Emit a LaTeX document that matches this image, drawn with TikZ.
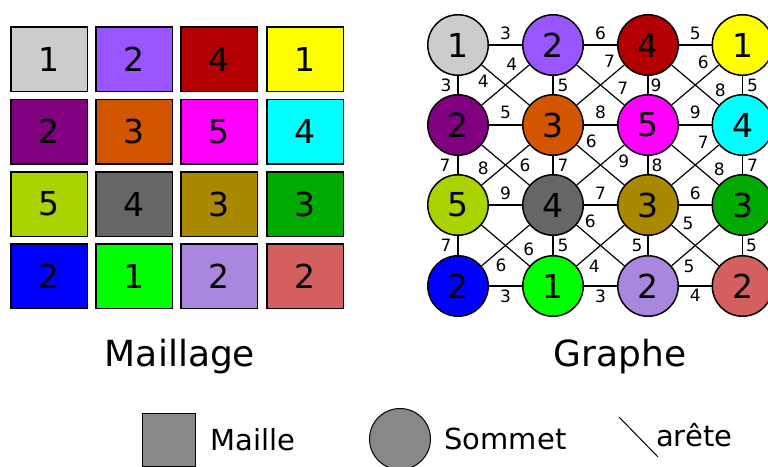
\documentclass[tikz,border=0pt]{standalone}
\usepackage{fontspec}
\setmainfont{DejaVu Sans}
\usetikzlibrary{positioning}

\definecolor{c11}{HTML}{CCCCCC}
\definecolor{c12}{HTML}{9955FF}
\definecolor{c13}{HTML}{B30000}
\definecolor{c14}{HTML}{FFFF00}
\definecolor{c21}{HTML}{800080}
\definecolor{c22}{HTML}{D45500}
\definecolor{c23}{HTML}{FF00FF}
\definecolor{c24}{HTML}{00FFFF}
\definecolor{c31}{HTML}{AAD400}
\definecolor{c32}{HTML}{666666}
\definecolor{c33}{HTML}{AA8800}
\definecolor{c34}{HTML}{00AA00}
\definecolor{c41}{HTML}{0000FF}
\definecolor{c42}{HTML}{00FF00}
\definecolor{c43}{HTML}{AA87DE}
\definecolor{c44}{HTML}{D35F5F}
\definecolor{gris}{HTML}{888888}

\begin{document}
\begin{tikzpicture}[x=1pt, y=-1pt,
  maille/.style={draw, line width=1.5pt, minimum width=76.5pt, minimum height=64.5pt, inner sep=0pt, font=\fontsize{33}{33}\selectfont},
  sommet/.style={circle, draw, line width=1.5pt, minimum size=60.5pt, inner sep=0pt, font=\fontsize{33}{33}\selectfont},
  poids/.style={font=\fontsize{17}{17}\selectfont, inner sep=2pt},
  titre/.style={font=\fontsize{36}{36}\selectfont, anchor=base},
  legende/.style={font=\fontsize{29}{29}\selectfont},
  every edge/.style={draw, line width=1.2pt}]
\useasboundingbox (0,0) rectangle (768,466);
% maillage
\node[maille, fill=c11] (m11) at (49,59) {1};
\node[maille, fill=c12] (m12) at (134,59) {2};
\node[maille, fill=c13] (m13) at (219,59) {4};
\node[maille, fill=c14] (m14) at (305,59) {1};
\node[maille, fill=c21] (m21) at (49,131.5) {2};
\node[maille, fill=c22] (m22) at (134,131.5) {3};
\node[maille, fill=c23] (m23) at (219,131.5) {5};
\node[maille, fill=c24] (m24) at (305,131.5) {4};
\node[maille, fill=c31] (m31) at (49,204) {5};
\node[maille, fill=c32] (m32) at (134,204) {4};
\node[maille, fill=c33] (m33) at (219,204) {3};
\node[maille, fill=c34] (m34) at (305,204) {3};
\node[maille, fill=c41] (m41) at (49,276) {2};
\node[maille, fill=c42] (m42) at (134,276) {1};
\node[maille, fill=c43] (m43) at (219,276) {2};
\node[maille, fill=c44] (m44) at (305,276) {2};
\node[titre] (tmaillage) at (180,366) {Maillage};

% graphe
\node[sommet, fill=c11] (s11) at (458,45) {1};
\node[sommet, fill=c12] (s12) at (553,45) {2};
\node[sommet, fill=c13] (s13) at (648,45) {4};
\node[sommet, fill=c14] (s14) at (742.5,45) {1};
\node[sommet, fill=c21] (s21) at (458,125) {2};
\node[sommet, fill=c22] (s22) at (553,125) {3};
\node[sommet, fill=c23] (s23) at (648,125) {5};
\node[sommet, fill=c24] (s24) at (742.5,125) {4};
\node[sommet, fill=c31] (s31) at (458,205) {5};
\node[sommet, fill=c32] (s32) at (553,205) {4};
\node[sommet, fill=c33] (s33) at (648,205) {3};
\node[sommet, fill=c34] (s34) at (742.5,205) {3};
\node[sommet, fill=c41] (s41) at (458,286) {2};
\node[sommet, fill=c42] (s42) at (553,286) {1};
\node[sommet, fill=c43] (s43) at (648,286) {2};
\node[sommet, fill=c44] (s44) at (742.5,286) {2};
\node[titre] (tgraphe) at (620,366) {Graphe};

% aretes horizontales
\path (s11) edge node[poids, above=3pt] {3} (s12);
\path (s12) edge node[poids, above=3pt] {6} (s13);
\path (s13) edge node[poids, above=3pt] {5} (s14);
\path (s21) edge node[poids, above=4pt] {5} (s22);
\path (s22) edge node[poids, above=4pt] {8} (s23);
\path (s23) edge node[poids, above=4pt] {9} (s24);
\path (s31) edge node[poids, above=3pt] {9} (s32);
\path (s32) edge node[poids, above=3pt] {7} (s33);
\path (s33) edge node[poids, above=3pt] {6} (s34);
\path (s41) edge node[poids, below=1pt] {3} (s42);
\path (s42) edge node[poids, below=1pt] {3} (s43);
\path (s43) edge node[poids, below=1pt] {4} (s44);
% aretes verticales
\path (s11) edge node[poids, left=4pt] {3} (s21);
\path (s21) edge node[poids, left=5pt] {7} (s31);
\path (s31) edge node[poids, left=4pt] {7} (s41);
\path (s12) edge node[poids, right=2pt] {5} (s22);
\path (s22) edge node[poids, right=2pt] {7} (s32);
\path (s32) edge node[poids, right=2pt] {5} (s42);
\path (s13) edge node[poids, right=0pt] {9} (s23);
\path (s23) edge node[poids, right=1pt] {8} (s33);
\path (s33) edge node[poids, left=3pt] {5} (s43);
\path (s14) edge node[poids, right=2pt] {5} (s24);
\path (s24) edge node[poids, right=2pt] {7} (s34);
\path (s34) edge node[poids, right=1pt] {5} (s44);
% aretes diagonales
\path (s11) edge node[poids, pos=.2, below left] {4} (s22);
\path (s12) edge node[poids, pos=.2, above left] {4} (s21);
\path (s13) edge node[poids, pos=.14, above left] {7} (s22);
\path (s12) edge node[poids, pos=.8, above right] {7} (s23);
\path (s14) edge node[poids, pos=.16, above left] {6} (s23);
\path (s13) edge node[poids, pos=.86, above right] {8} (s24);
\path (s22) edge node[poids, pos=.8, above left] {8} (s31);
\path (s21) edge node[poids, pos=.74, above right] {6} (s32);
\path (s22) edge node[poids, pos=.14, above right] {6} (s33);
\path (s23) edge node[poids, pos=.18, below right] {9} (s32);
\path (s24) edge node[poids, pos=.16, above left] {7} (s33);
\path (s23) edge node[poids, pos=.84, above right] {8} (s34);
\path (s31) edge node[poids, pos=.82, above right] {6} (s42);
\path (s32) edge node[poids, pos=.76, below right] {6} (s41);
\path (s32) edge node[poids, pos=.12, above right] {6} (s43);
\path (s33) edge node[poids, pos=.8, below right] {4} (s42);
\path (s33) edge node[poids, pos=.18, above right] {5} (s44);
\path (s34) edge node[poids, pos=.8, below right] {5} (s43);

% legende
\node[draw, fill=gris, line width=1pt, minimum width=53pt, minimum height=53pt] (legmaille) at (169,440) {};
\node[legende, right=11pt of legmaille] (lmaille) {Maille};
\node[circle, draw, fill=gris, line width=1pt, minimum size=61pt, inner sep=0pt] (legsommet) at (400,439) {};
\node[legende, right=10pt of legsommet] (lsommet) {Sommet};
\coordinate (ah) at (619,417);
\coordinate (ab) at (658,457);
\draw[line width=1pt] (ah) -- (ab);
\node[legende, anchor=base west, inner sep=0pt] (larete) at (656,446) {arête};
\end{tikzpicture}
\end{document}
